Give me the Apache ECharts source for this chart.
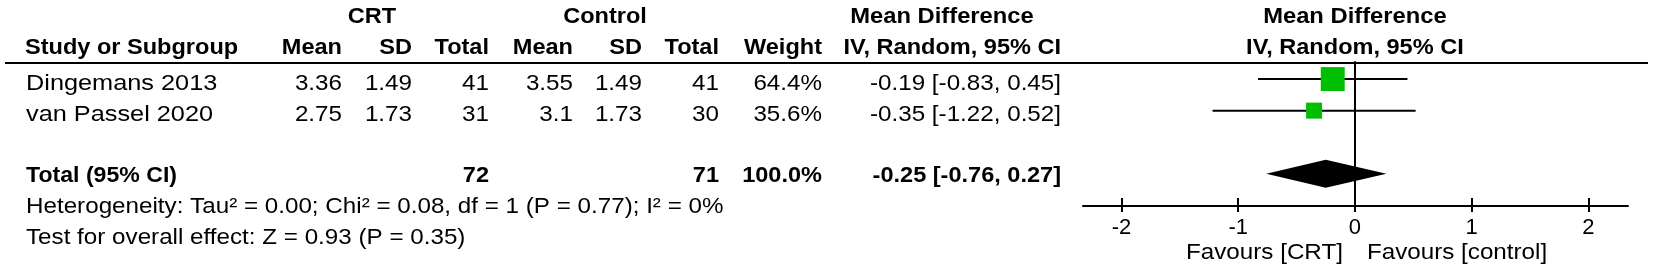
<!DOCTYPE html>
<html>
<head>
<meta charset="utf-8">
<script src="https://cdn.jsdelivr.net/npm/echarts@6.0.0/dist/echarts.min.js"></script>
<style>
html, body { margin: 0; padding: 0; background: #fff; }
#forest { width: 1654px; height: 271px; }
</style>
</head>
<body>
<div id="forest"></div>
<script>
// study rows
var studies = ['Dingemans 2013', 'van Passel 2020'];
var crtMean = [3.36, 2.75];
var crtSD = [1.49, 1.73];
var crtN = [41, 31];
var ctlMean = [3.55, 3.1];
var ctlSD = [1.49, 1.73];
var ctlN = [41, 30];
var weights = [64.4, 35.6];
var md = [-0.19, -0.35];
var ciLow = [-0.83, -1.22];
var ciHigh = [0.45, 0.52];
var rowPos = [0, 1];

// pooled
var totalRow = 3;
var totalCrtN = 72;
var totalCtlN = 71;
var totalWeight = 100;
var totalMd = -0.25;
var totalLow = -0.76;
var totalHigh = 0.27;

var hetText = 'Heterogeneity: Tau\u00b2 = 0.00; Chi\u00b2 = 0.08, df = 1 (P = 0.77); I\u00b2 = 0%';
var testText = 'Test for overall effect: Z = 0.93 (P = 0.35)';
var favours = ['Favours [CRT]', 'Favours [control]'];
var ticks = [-2, -1, 0, 1, 2];

var FONT = '"Liberation Sans", Arial, sans-serif';
var colRight = [342, 412, 489, 573, 642, 719, 822, 1061];

function txt(s, x, y, align, bold, sx) {
  return {
    type: 'text', x: x, y: y, scaleX: sx || 1, silent: true,
    style: { text: s, align: align, verticalAlign: 'middle',
      font: (bold ? 'bold ' : '') + '22px ' + FONT, fill: '#000' }
  };
}
function ci(m, l, h) {
  return m.toFixed(2) + ' [' + l.toFixed(2) + ', ' + h.toFixed(2) + ']';
}

function renderStudy(params, api) {
  var y = api.value(3);
  var a = api.coord([api.value(0), y]);
  var b = api.coord([api.value(1), y]);
  var c = api.coord([api.value(2), y]);
  var s = 1.41 * Math.pow(api.value(4), 0.68);
  return {
    type: 'group',
    children: [
      { type: 'line', shape: { x1: a[0], y1: a[1], x2: b[0], y2: b[1] }, style: { stroke: '#000', lineWidth: 2 } },
      { type: 'rect', shape: { x: c[0] - s / 2, y: c[1] - s / 2, width: s, height: s }, style: { fill: '#00bf00' } }
    ]
  };
}
function renderDiamond(params, api) {
  var y = api.value(3);
  var a = api.coord([api.value(0), y]);
  var b = api.coord([api.value(1), y]);
  var c = api.coord([api.value(2), y]);
  return {
    type: 'polygon',
    shape: { points: [[a[0], a[1]], [c[0], c[1] - 14], [b[0], b[1]], [c[0], c[1] + 14]] },
    style: { fill: '#000' }
  };
}

var chart = echarts.init(document.getElementById('forest'));
chart.setOption({
  animation: false,
  grid: { left: 1083, right: 26, top: 62, bottom: 65 },
  xAxis: [{
    type: 'value', min: -2.33, max: 2.34, position: 'bottom',
    axisLine: { onZero: false, lineStyle: { color: '#000', width: 2 } },
    axisTick: { inside: true, length: 8, customValues: ticks, lineStyle: { color: '#000', width: 2 } },
    axisLabel: { customValues: ticks, margin: 11, fontSize: 22, fontFamily: FONT, color: '#000' },
    splitLine: { show: false }
  }, {
    type: 'value', min: -2.33, max: 2.34, position: 'bottom',
    axisLine: { show: false, onZero: false },
    axisTick: { length: 6, customValues: ticks, lineStyle: { color: '#000', width: 2 } },
    axisLabel: { show: false },
    splitLine: { show: false }
  }],
  yAxis: {
    type: 'value', inverse: true, min: -0.54, max: 4.02,
    axisLine: { show: true, onZero: true, lineStyle: { color: '#000', width: 2 } },
    axisTick: { show: false }, axisLabel: { show: false }, splitLine: { show: false }
  },
  series: [{
    type: 'custom', renderItem: renderStudy, encode: { x: [0, 1, 2], y: 3 },
    data: studies.map(function (s, i) { return [ciLow[i], ciHigh[i], md[i], rowPos[i], weights[i]]; })
  }, {
    type: 'custom', renderItem: renderDiamond, encode: { x: [0, 1, 2], y: 3 },
    data: [[totalLow, totalHigh, totalMd, totalRow]]
  }]
});

var zx = chart.convertToPixel({ xAxisIndex: 0 }, 0);
var g = [];
g.push({ type: 'line', silent: true, shape: { x1: 5, y1: 63, x2: 1648, y2: 63 }, style: { stroke: '#000', lineWidth: 2 } });

// header
g.push(txt('CRT', 372, 17, 'center', true, 1.07));
g.push(txt('Control', 605, 17, 'center', true, 1.07));
g.push(txt('Mean Difference', 942, 17, 'center', true, 1.08));
g.push(txt('Mean Difference', zx, 17, 'center', true, 1.08));
g.push(txt('Study or Subgroup', 25, 48, 'left', true, 1.07));
['Mean', 'SD', 'Total', 'Mean', 'SD', 'Total', 'Weight', 'IV, Random, 95% CI'].forEach(function (h, k) {
  g.push(txt(h, colRight[k], 48, 'right', true, 1.07));
});
g.push(txt('IV, Random, 95% CI', zx, 48, 'center', true, 1.07));

// study rows
var rowTextY = [83.5, 114.5];
studies.forEach(function (s, i) {
  var y = rowTextY[i];
  var cells = [String(crtMean[i]), String(crtSD[i]), String(crtN[i]), String(ctlMean[i]),
    String(ctlSD[i]), String(ctlN[i]), weights[i].toFixed(1) + '%', ci(md[i], ciLow[i], ciHigh[i])];
  g.push(txt(s, 26, y, 'left', false, 1.15));
  cells.forEach(function (c, k) { g.push(txt(c, colRight[k], y, 'right', false, 1.1)); });
});

// total row
g.push(txt('Total (95% CI)', 26, 175.5, 'left', true, 1.05));
g.push(txt(String(totalCrtN), colRight[2], 175.5, 'right', true, 1.07));
g.push(txt(String(totalCtlN), colRight[5], 175.5, 'right', true, 1.07));
g.push(txt(totalWeight.toFixed(1) + '%', colRight[6], 175.5, 'right', true, 1.07));
g.push(txt(ci(totalMd, totalLow, totalHigh), colRight[7], 175.5, 'right', true, 1.07));

g.push(txt(hetText, 26, 206.5, 'left', false, 1.1));
g.push(txt(testText, 26, 237.5, 'left', false, 1.1));

g.push(txt(favours[0], zx - 12, 252.5, 'right', false, 1.1));
g.push(txt(favours[1], zx + 12, 252.5, 'left', false, 1.1));

chart.setOption({ graphic: g });
window.onresize = chart.resize;
</script>
</body>
</html>
